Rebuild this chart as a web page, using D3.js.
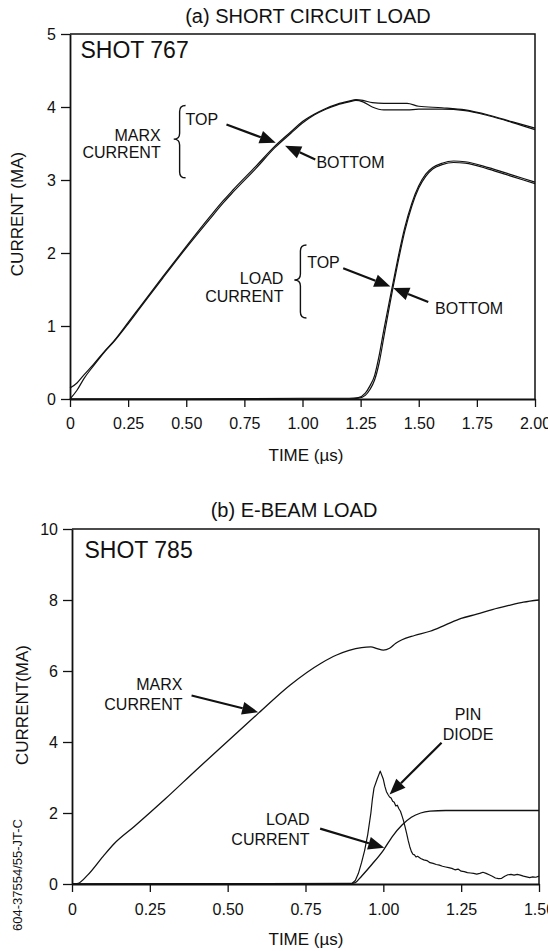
<!DOCTYPE html>
<html><head><meta charset="utf-8">
<script src="https://cdn.jsdelivr.net/npm/d3@7"></script>
<style>
body{margin:0;background:#fff}
svg{display:block}
text{font-family:"Liberation Sans",Arial,Helvetica,sans-serif;fill:#111}
</style>
</head><body><svg id="c" width="548" height="951"></svg>
<script>
// ---------- Panel (a) SHORT CIRCUIT LOAD, shot 767 ----------
const marxTimeA   = [0,0.03,0.06,0.1,0.15,0.19,0.25,0.3,0.4,0.5,0.6,0.66,0.7,0.8,0.88,0.95,1.0,1.05,1.1,1.15,1.2,1.23,1.26,1.3,1.35,1.45,1.5,1.6,1.7,1.8,1.9,2.0];
const marxTopA    = [0.15,0.22,0.33,0.47,0.66,0.80,1.05,1.26,1.68,2.09,2.49,2.72,2.86,3.19,3.46,3.66,3.80,3.90,3.98,4.04,4.08,4.10,4.09,4.06,4.05,4.05,4.01,3.99,3.96,3.89,3.80,3.71];
const marxBottomA = [0.00,0.12,0.28,0.45,0.65,0.79,1.03,1.24,1.66,2.07,2.46,2.69,2.83,3.16,3.44,3.64,3.78,3.89,3.97,4.03,4.07,4.09,4.07,4.00,3.96,3.96,3.97,3.97,3.95,3.88,3.79,3.69];
const loadTimeA   = [0,0.5,1.0,1.2,1.24,1.27,1.29,1.31,1.33,1.35,1.37,1.39,1.41,1.44,1.47,1.50,1.53,1.56,1.60,1.65,1.70,1.80,1.90,2.00];
const loadTopA    = [0,0,0.01,0.01,0.02,0.08,0.18,0.32,0.60,0.95,1.28,1.60,1.92,2.35,2.68,2.92,3.08,3.17,3.23,3.26,3.25,3.17,3.07,2.97];
const loadBottomA = [0,0,0.00,0.00,0.01,0.05,0.13,0.26,0.50,0.85,1.20,1.54,1.86,2.30,2.64,2.89,3.05,3.15,3.21,3.24,3.23,3.15,3.05,2.95];
const xTicksA = [0,0.25,0.5,0.75,1.0,1.25,1.5,1.75,2.0];
const yTicksA = [0,1,2,3,4,5];

// ---------- Panel (b) E-BEAM LOAD, shot 785 ----------
const marxTimeB = [0,0.02,0.05,0.1,0.136,0.2,0.3,0.4,0.5,0.6,0.7,0.8,0.85,0.89,0.93,0.96,0.98,1.0,1.02,1.04,1.06,1.1,1.15,1.2,1.25,1.3,1.35,1.4,1.45,1.5];
const marxB     = [0,0.02,0.25,0.78,1.14,1.62,2.40,3.22,4.02,4.82,5.60,6.22,6.45,6.58,6.66,6.68,6.63,6.59,6.64,6.78,6.88,7.00,7.12,7.30,7.48,7.60,7.73,7.84,7.94,8.00];
const loadTimeB = [0,0.5,0.9,0.91,0.93,0.965,1.0,1.03,1.06,1.09,1.12,1.15,1.2,1.5];
const loadB     = [0,0.01,0.02,0.04,0.22,0.57,0.95,1.35,1.66,1.88,2.00,2.05,2.07,2.07];
const pinTimeB  = [0,0.5,0.88,0.9,0.91,0.92,0.93,0.94,0.95,0.96,0.965,0.97,0.98,0.99,1.0,1.005,1.01,1.015,1.02,1.025,1.03,1.035,1.04,1.045,1.05,1.055,1.06,1.065,1.07,1.075,1.08,1.085,1.09,1.095,1.1,1.105,1.11,1.12,1.13,1.14,1.15,1.16,1.17,1.18,1.19,1.2,1.21,1.22,1.23,1.24,1.25,1.26,1.27,1.28,1.29,1.3,1.31,1.32,1.33,1.34,1.35,1.36,1.37,1.38,1.39,1.4,1.41,1.42,1.43,1.44,1.45,1.46,1.47,1.48,1.49,1.5];
const pinB      = [0,0.01,0.01,0.02,0.1,0.3,0.6,0.95,1.4,2.0,2.4,2.7,2.95,3.18,2.95,2.75,2.6,2.52,2.45,2.42,2.33,2.3,2.2,2.22,2.12,2.05,1.92,1.78,1.6,1.42,1.22,1.05,0.92,0.84,0.82,0.76,0.78,0.72,0.68,0.66,0.6,0.58,0.55,0.53,0.5,0.48,0.46,0.44,0.4,0.42,0.36,0.35,0.32,0.31,0.3,0.28,0.3,0.33,0.3,0.26,0.22,0.17,0.15,0.16,0.22,0.26,0.27,0.25,0.27,0.25,0.22,0.2,0.18,0.2,0.19,0.22];
const xTicksB = [0,0.25,0.5,0.75,1.0,1.25,1.5];
const yTicksB = [0,2,4,6,8,10];

const svg = d3.select("#c");
const zip = (t, v) => t.map((d, i) => [d, v[i]]);
const fmtX = d => d === 0 ? "0" : d3.format(".2f")(d);
const fmtY = d3.format("d");

function panel(cfg) {
  const g = svg.append("g");
  const x = d3.scaleLinear().domain(cfg.xd).range(cfg.xr);
  const y = d3.scaleLinear().domain(cfg.yd).range(cfg.yr);
  // frame
  g.append("path")
    .attr("d", `M${cfg.xr[0]},${cfg.yr[1]}H${cfg.xr[1]}V${cfg.yr[0]}`)
    .attr("fill", "none").attr("stroke", "#111").attr("stroke-width", 1.5);
  const xa = g.append("g").attr("transform", `translate(0,${cfg.yr[0]})`)
    .call(d3.axisBottom(x).tickValues(cfg.xt).tickFormat(fmtX).tickSize(8).tickSizeOuter(0).tickPadding(cfg.xpad));
  const ya = g.append("g").attr("transform", `translate(${cfg.xr[0]},0)`)
    .call(d3.axisLeft(y).tickValues(cfg.yt).tickFormat(fmtY).tickSize(9).tickSizeOuter(0).tickPadding(5));
  [xa, ya].forEach(a => {
    a.selectAll("text").attr("font-size", 16).attr("fill", "#111")
      .attr("font-family", '"Liberation Sans",Arial,Helvetica,sans-serif');
    a.selectAll("line").attr("stroke", "#111").attr("stroke-width", 1.3);
    a.select(".domain").attr("stroke", "#111").attr("stroke-width", 1.8);
  });
  return {g, x, y};
}

function drawLine(p, data, w, curve) {
  p.g.append("path").datum(data)
    .attr("fill", "none").attr("stroke", "#111").attr("stroke-width", w)
    .attr("stroke-linejoin", "round")
    .attr("d", d3.line().x(d => p.x(d[0])).y(d => p.y(d[1])).curve(curve || d3.curveMonotoneX));
}

function arrow(p, tail, tip) {
  const x1 = p.x(tail[0]), y1 = p.y(tail[1]), x2 = p.x(tip[0]), y2 = p.y(tip[1]);
  const a = Math.atan2(y2 - y1, x2 - x1), L = 16, H = 6.5;
  const bx = x2 - L * Math.cos(a), by = y2 - L * Math.sin(a);
  p.g.append("line").attr("x1", x1).attr("y1", y1).attr("x2", bx).attr("y2", by)
    .attr("stroke", "#111").attr("stroke-width", 2.2);
  p.g.append("path")
    .attr("d", `M${x2},${y2}L${bx - H * Math.sin(a)},${by + H * Math.cos(a)}L${bx + H * Math.sin(a)},${by - H * Math.cos(a)}Z`)
    .attr("fill", "#111");
}

function brace(p, tL, tR, vTop, vMid, vBot) {
  const xl = p.x(tL), xr = p.x(tR), xm = (xl + xr) / 2, r = (xr - xl) / 2;
  const yt = p.y(vTop), ym = p.y(vMid), yb = p.y(vBot);
  p.g.append("path")
    .attr("d", `M${xr},${yt}Q${xm},${yt} ${xm},${yt + r}L${xm},${ym - r}Q${xm},${ym} ${xl},${ym}Q${xm},${ym} ${xm},${ym + r}L${xm},${yb - r}Q${xm},${yb} ${xr},${yb}`)
    .attr("fill", "none").attr("stroke", "#111").attr("stroke-width", 1.4);
}

function label(p, t, v, txt, anchor, size) {
  p.g.append("text").attr("x", p.x(t)).attr("y", p.y(v)).attr("dy", "0.36em")
    .attr("text-anchor", anchor || "start").attr("font-size", size || 16).text(txt);
}

// ----- Panel A -----
const A = panel({xd:[0,2], xr:[70,535], yd:[0,5], yr:[399,34], xt:xTicksA, yt:yTicksA, xpad:11});
drawLine(A, zip(marxTimeA, marxTopA), 1.2);
drawLine(A, zip(marxTimeA, marxBottomA), 1.2);
drawLine(A, zip(loadTimeA, loadTopA), 1.2);
drawLine(A, zip(loadTimeA, loadBottomA), 1.2);

svg.append("text").attr("x", 308).attr("y", 23).attr("text-anchor", "middle").attr("font-size", 20).text("(a) SHORT CIRCUIT LOAD");
label(A, 0.045, 4.78, "SHOT 767", "start", 23);
label(A, 0.39, 3.61, "MARX", "end");
label(A, 0.39, 3.38, "CURRENT", "end");
brace(A, 0.446, 0.497, 4.02, 3.56, 3.03);
label(A, 0.497, 3.83, "TOP", "start");
arrow(A, [0.673, 3.76], [0.885, 3.51]);
label(A, 1.06, 3.24, "BOTTOM", "start");
arrow(A, [1.055, 3.28], [0.925, 3.47]);

label(A, 0.918, 1.66, "LOAD", "end");
label(A, 0.918, 1.41, "CURRENT", "end");
brace(A, 0.965, 1.017, 2.11, 1.63, 1.11);
label(A, 1.02, 1.87, "TOP", "start");
arrow(A, [1.175, 1.79], [1.378, 1.54]);
label(A, 1.57, 1.25, "BOTTOM", "start");
arrow(A, [1.541, 1.33], [1.39, 1.52]);

svg.append("text").attr("x", 306).attr("y", 461).attr("text-anchor", "middle").attr("font-size", 17).text("TIME (µs)");
svg.append("text").attr("transform", "translate(23,214) rotate(-90)").attr("text-anchor", "middle").attr("font-size", 17).text("CURRENT (MA)");

// ----- Panel B -----
const B = panel({xd:[0,1.5], xr:[72,539], yd:[0,10], yr:[884,529], xt:xTicksB, yt:yTicksB, xpad:12});
drawLine(B, zip(marxTimeB, marxB), 1.3);
drawLine(B, zip(loadTimeB, loadB), 1.3);
drawLine(B, zip(pinTimeB, pinB), 1.2, d3.curveLinear);

svg.append("text").attr("x", 294).attr("y", 517).attr("text-anchor", "middle").attr("font-size", 20).text("(b) E-BEAM LOAD");
label(B, 0.04, 9.42, "SHOT 785", "start", 23);
label(B, 0.355, 5.62, "MARX", "end");
label(B, 0.355, 5.07, "CURRENT", "end");
arrow(B, [0.384, 5.31], [0.598, 4.84]);
label(B, 1.272, 4.78, "PIN", "middle");
label(B, 1.272, 4.22, "DIODE", "middle");
arrow(B, [1.187, 3.98], [1.02, 2.52]);
label(B, 0.763, 1.82, "LOAD", "end");
label(B, 0.763, 1.27, "CURRENT", "end");
arrow(B, [0.797, 1.56], [1.003, 1.02]);

svg.append("text").attr("x", 306).attr("y", 945).attr("text-anchor", "middle").attr("font-size", 17).text("TIME (µs)");
svg.append("text").attr("transform", "translate(28,705) rotate(-90)").attr("text-anchor", "middle").attr("font-size", 17).text("CURRENT(MA)");
svg.append("text").attr("transform", "translate(22,875) rotate(-90)").attr("text-anchor", "middle").attr("font-size", 13).text("604-37554/55-JT-C");
</script>
</body></html>
